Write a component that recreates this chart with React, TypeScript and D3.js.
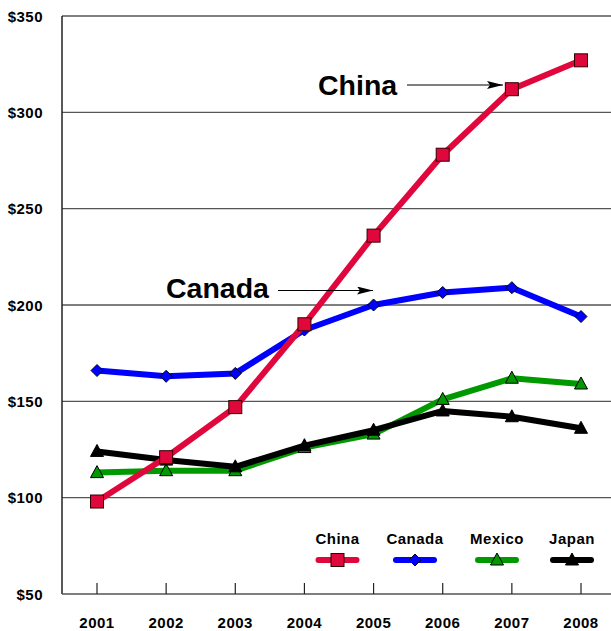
import React from "react";
import * as d3 from "d3";

const years = ["2001", "2002", "2003", "2004", "2005", "2006", "2007", "2008"];
const china = [98, 121, 147, 190, 236, 278, 312, 327];
const canada = [166, 163, 164.5, 187, 200, 206.5, 209, 194];
const mexico = [113, 114, 114, 126, 133, 151, 162, 159];
const japan = [124, 119.5, 116, 127, 135, 145, 142, 136];
const yTicks = [50, 100, 150, 200, 250, 300, 350];
const seriesNames = ["China", "Canada", "Mexico", "Japan"];
const seriesColors = ["#E0073D", "#0000FF", "#009900", "#000000"];
const seriesShapes = ["square", "diamond", "triangle", "triangle"];

const W = 611, H = 631;
const left = 62, right = 611, top = 16, bottom = 594;

function Marker({ shape, x, y, color }: { shape: string; x: number; y: number; color: string }) {
  if (shape === "square") {
    return <rect x={x - 6.5} y={y - 6.5} width={13} height={13} fill={color} stroke="#300" strokeWidth={1} />;
  }
  if (shape === "diamond") {
    return <path d={`M${x},${y - 6}L${x + 6},${y}L${x},${y + 6}L${x - 6},${y}Z`} fill={color} stroke="#002" strokeWidth={1} />;
  }
  return <path d={`M${x},${y - 7}L${x + 6.5},${y + 5}L${x - 6.5},${y + 5}Z`} fill={color} stroke="#000" strokeWidth={1} />;
}

export default function App() {
  const x = d3.scalePoint<string>().domain(years).range([97, 581]);
  const y = d3.scaleLinear().domain([50, 350]).range([bottom, top]);
  const data = [china, canada, mexico, japan];
  const line = d3
    .line<number>()
    .x((_, i) => x(years[i]) as number)
    .y((d) => y(d));
  const font = "Arial, 'Liberation Sans', sans-serif";
  const legendX = [337.5, 415, 497, 572];
  const order = [1, 2, 3, 0];
  return (
    <svg width={W} height={H} style={{ position: "absolute", left: 0, top: 0 }} fontFamily={font}>
      <defs>
        <marker id="arr" viewBox="0 0 16 8" refX={16} refY={4} markerWidth={16} markerHeight={8} markerUnits="userSpaceOnUse" orient="auto">
          <path d="M0,0L16,4L0,8L3,4Z" fill="#000" />
        </marker>
      </defs>
      <rect width={W} height={H} fill="#fff" />
      {yTicks.map((t) => (
        <g key={t}>
          {t !== 50 && <line x1={left} x2={right} y1={y(t)} y2={y(t)} stroke="#555" strokeWidth={1.3} />}
          <text x={43} y={y(t) + 5.5} textAnchor="end" fontSize={15} letterSpacing={0.5} fontWeight="bold" fill="#000">
            ${t}
          </text>
        </g>
      ))}
      <line x1={left} x2={left} y1={top} y2={bottom} stroke="#222" strokeWidth={1.5} />
      <line x1={left} x2={right} y1={bottom} y2={bottom} stroke="#555" strokeWidth={1.5} />
      {years.map((yr) => (
        <g key={yr}>
          <line x1={x(yr)} x2={x(yr)} y1={bottom} y2={bottom - 11} stroke="#222" strokeWidth={1.2} />
          <text x={x(yr)} y={628} textAnchor="middle" fontSize={15} letterSpacing={0.5} fontWeight="bold" fill="#000">
            {yr}
          </text>
        </g>
      ))}
      {order.map((si) => (
        <g key={si}>
          <path d={line(data[si]) || ""} fill="none" stroke={seriesColors[si]} strokeWidth={6} strokeLinejoin="round" strokeLinecap="round" />
          {data[si].map((v, i) => (
            <Marker key={i} shape={seriesShapes[si]} x={x(years[i]) as number} y={y(v)} color={seriesColors[si]} />
          ))}
        </g>
      ))}
      <text x={318} y={95} fontSize={28.5} fontWeight="bold" fill="#000">China</text>
      <line x1={407} x2={503} y1={85} y2={85} stroke="#000" strokeWidth={1.2} markerEnd="url(#arr)" />
      <text x={166} y={298} fontSize={28.5} fontWeight="bold" fill="#000">Canada</text>
      <line x1={278} x2={373} y1={290.5} y2={290.5} stroke="#000" strokeWidth={1.2} markerEnd="url(#arr)" />
      {seriesNames.map((n, i) => (
        <g key={n}>
          <text x={legendX[i]} y={544} textAnchor="middle" fontSize={15} letterSpacing={0.5} fontWeight="bold" fill="#000">{n}</text>
          <line x1={legendX[i] - 19} x2={legendX[i] + 19} y1={560} y2={560} stroke={seriesColors[i]} strokeWidth={6} strokeLinecap="round" />
          <Marker shape={seriesShapes[i]} x={legendX[i]} y={560} color={seriesColors[i]} />
        </g>
      ))}
    </svg>
  );
}
